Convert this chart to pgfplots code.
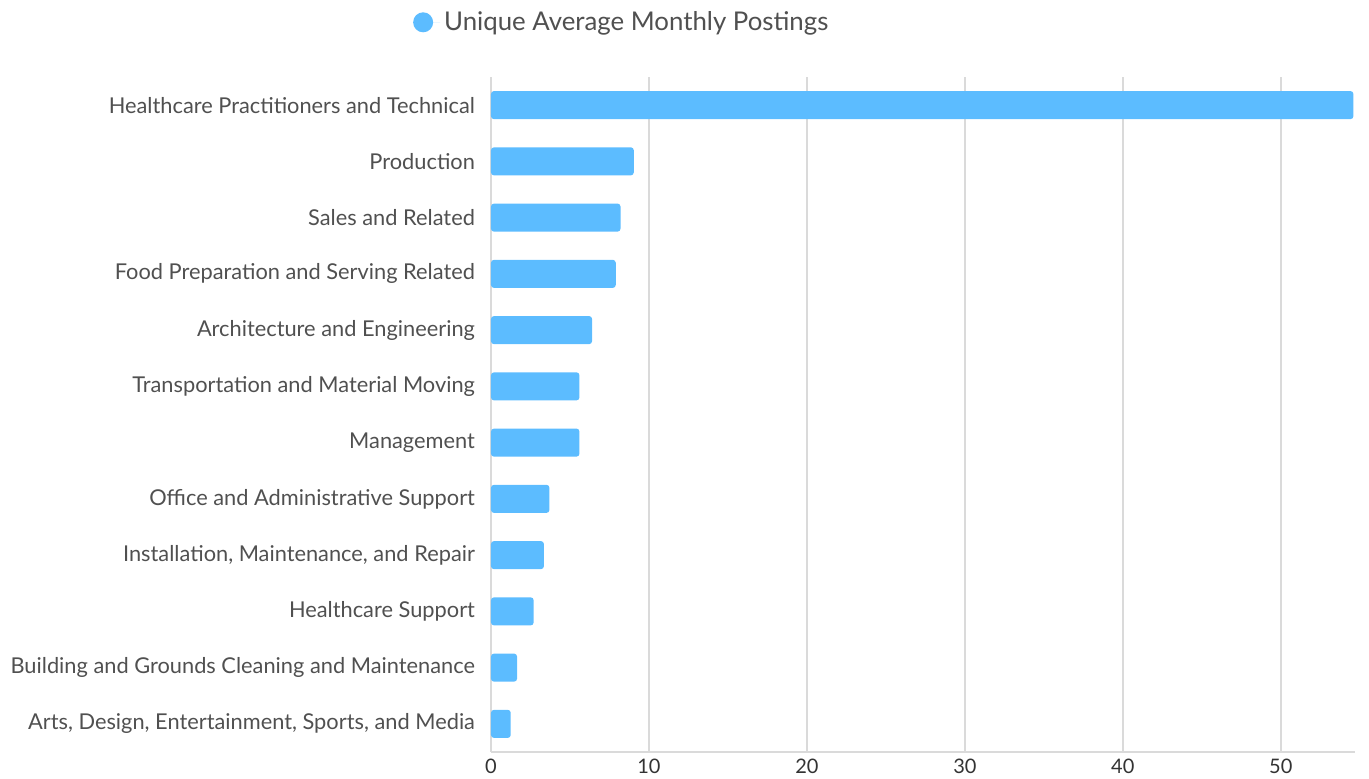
\documentclass[border=0pt]{standalone}
\usepackage{fontspec}
\setmainfont{Lato}
\usepackage{pgfplots}
\pgfplotsset{compat=1.18}
\definecolor{barblue}{RGB}{92,188,255}
\definecolor{labgray}{RGB}{80,80,80}
\definecolor{gridgray}{RGB}{218,218,218}
\begin{document}
\begin{tikzpicture}
\path[use as bounding box] (-245.5pt,-13.5pt) rectangle (439pt,376pt);
\begin{axis}[
  at={(0,0)}, anchor=south west,
  scale only axis, width=432pt, height=337.5pt,
  xbar, bar width=0.5,
  xmin=0, xmax=54.7,
  ymin=-0.5, ymax=11.5,
  xtick={0,10,20,30,40,50},
  ytick={0,...,11},
  yticklabels={Arts{,} Design{,} Entertainment{,} Sports{,} and Media,
    Building and Grounds Cleaning and Maintenance,
    Healthcare Support,
    Installation{,} Maintenance{,} and Repair,
    Office and Administrative Support,
    Management,
    Transportation and Material Moving,
    Architecture and Engineering,
    Food Preparation and Serving Related,
    Sales and Related,
    Production,
    Healthcare Practitioners and Technical},
  axis x line*=bottom, axis y line*=left,
  x axis line style={draw=gridgray, line width=0.8pt},
  y axis line style={draw=none},
  xmajorgrids, major grid style={draw=gridgray, line width=0.8pt},
  tick style={draw=none},
  major tick length=0pt,
  yticklabel style={font=\fontsize{10.9}{13}\selectfont, text=labgray, xshift=-4.5pt},
  xticklabel style={font=\fontsize{10}{12}\selectfont, text=black!80},
  /pgf/number format/assume math mode=true,
  legend style={draw=none, at={(0.1525,1.081)}, anchor=center, font=\fontsize{12.9}{15}\selectfont, text=labgray, inner sep=0pt},
  legend image code/.code={\fill[barblue] (0.2cm,0) circle (5pt); \path (0.2cm-5pt,0) -- (0.2cm+8.5pt,0);},
  legend cell align=left,
  clip=false,
]
\addplot[fill=barblue, draw=none, rounded corners=1.5pt] coordinates {
(1.25,0) (1.65,1) (2.7,2) (3.35,3) (3.7,4) (5.6,5) (5.6,6) (6.4,7) (7.9,8) (8.2,9) (9.04,10) (54.6,11)};
\addlegendentry{Unique Average Monthly Postings}
\end{axis}
\end{tikzpicture}
\end{document}
